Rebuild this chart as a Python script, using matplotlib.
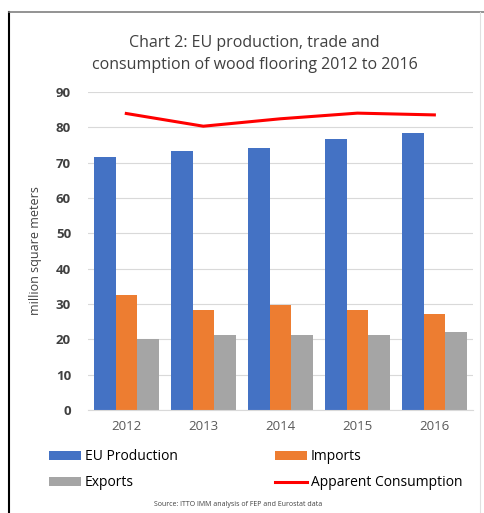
import numpy as np
import matplotlib.pyplot as plt
from matplotlib.lines import Line2D

years = ['2012', '2013', '2014', '2015', '2016']
eu_production = [71.5, 73.3, 74.0, 76.8, 78.5]
imports = [32.4, 28.2, 29.8, 28.2, 27.1]
exports = [20.1, 21.1, 21.2, 21.2, 22.2]
apparent_consumption = [83.9, 80.3, 82.4, 84.0, 83.5]

plt.rcParams['font.family'] = ['Open Sans', 'DejaVu Sans']

fig = plt.figure(figsize=(4.85, 5.13), dpi=100)
ax = fig.add_axes([0.181, 0.2008, 0.794, 0.62])

x = np.arange(len(years))
w = 0.28
b1 = ax.bar(x - w, eu_production, w, color='#4472C4', label='EU Production')
b2 = ax.bar(x, imports, w, color='#ED7D31', label='Imports')
b3 = ax.bar(x + w, exports, w, color='#A5A5A5', label='Exports')
ln, = ax.plot(x, apparent_consumption, color='#FF0000', lw=2.2, label='Apparent Consumption')

ax.set_xlim(-0.5, 4.5)
ax.set_ylim(0, 90)
ax.set_yticks(range(0, 91, 10))
ax.set_xticks(x)
ax.set_xticklabels(years, color='#595959', fontsize=9.5)
ax.tick_params(axis='y', labelsize=9.5, labelcolor='#404040', length=0, pad=12)
ax.tick_params(axis='x', length=0, pad=7)
for lbl in ax.get_yticklabels():
    lbl.set_fontweight('bold')
ax.grid(axis='y', color='#D9D9D9', lw=0.8)
ax.set_axisbelow(True)
for s in ['top', 'right', 'left']:
    ax.spines[s].set_visible(False)
ax.spines['bottom'].set_color('#D9D9D9')
ax.set_ylabel('million square meters', fontsize=9, color='#404040', labelpad=10)

fig.text(0.525, 0.895, 'Chart 2: EU production, trade and\nconsumption of wood flooring 2012 to 2016',
         ha='center', va='center', fontsize=11.5, color='#404040', linespacing=1.5)

fig.legend([b1, b3, b2, ln], ['EU Production', 'Exports', 'Imports', 'Apparent Consumption'],
           ncol=2, loc='center', bbox_to_anchor=(0.527, 0.084), frameon=False,
           fontsize=10, handlelength=2.3, handleheight=0.6, columnspacing=7.0,
           handletextpad=0.3, labelspacing=0.8)

fig.text(0.49, 0.017, 'Source: ITTO IMM analysis of FEP and Eurostat data',
         ha='center', va='center', fontsize=5, color='#404040')

# frame around the picture
fig.add_artist(Line2D([0.019, 0.019], [0, 0.977], color='black', lw=1.5))
fig.add_artist(Line2D([0.019, 1.0], [0.977, 0.977], color='#808080', lw=1.2))
fig.add_artist(Line2D([0.99, 0.99], [0, 0.977], color='#E0E0E0', lw=0.8))

plt.savefig('out.png', dpi=100)
